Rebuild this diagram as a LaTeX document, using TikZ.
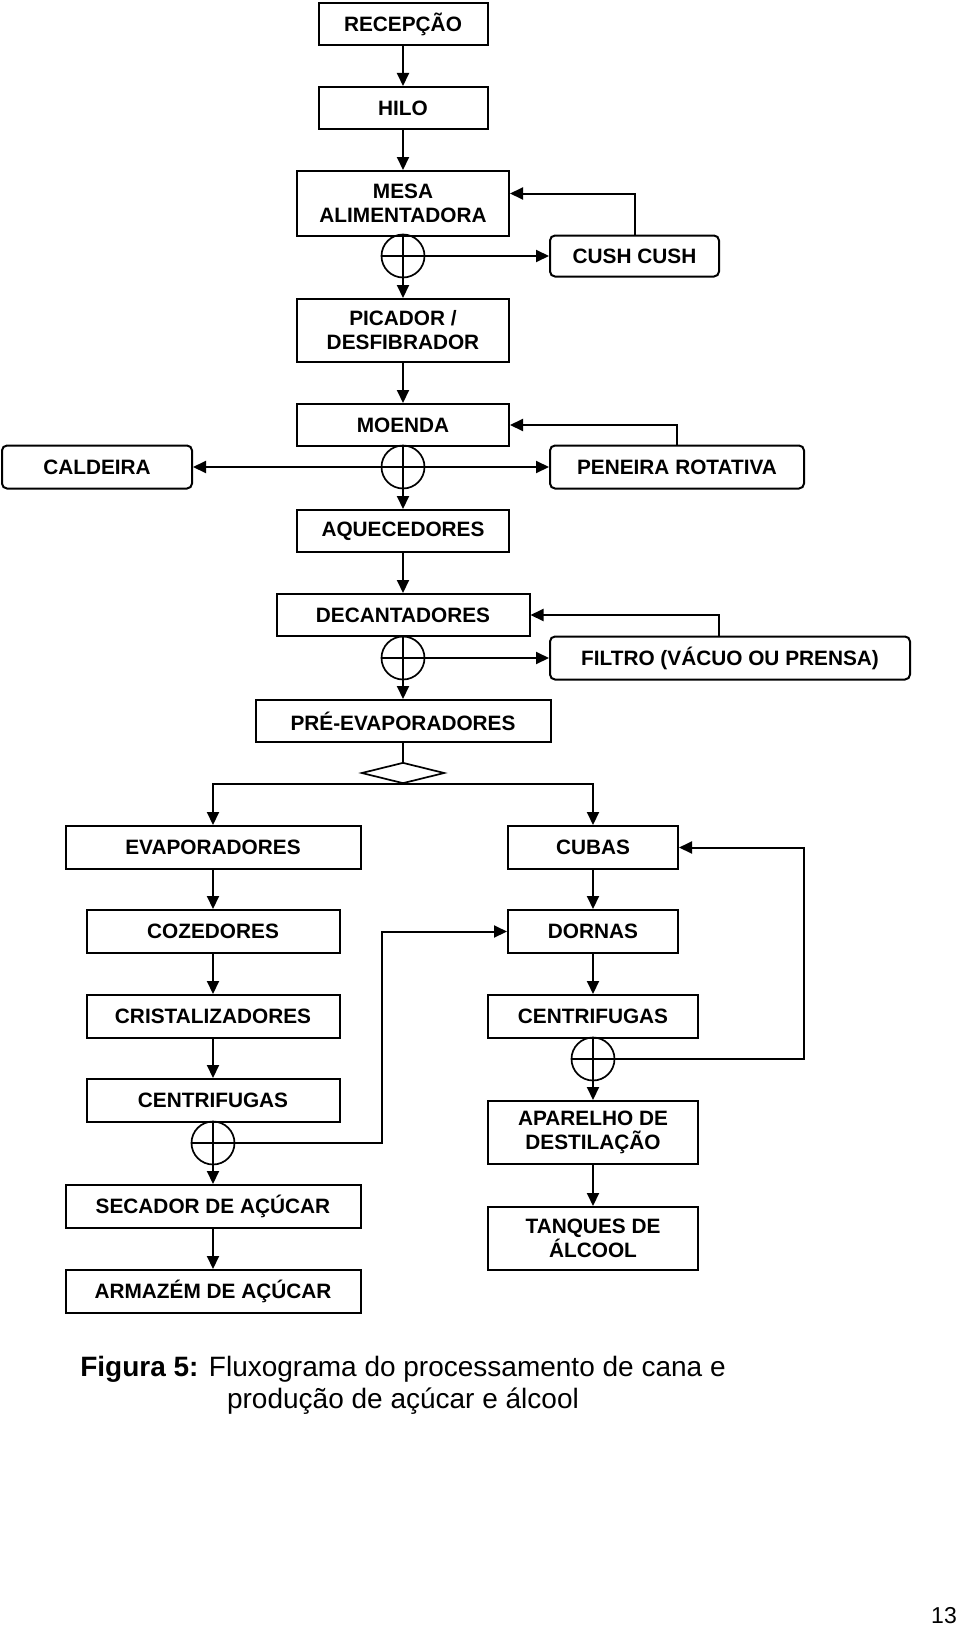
\documentclass[tikz,border=0pt]{standalone}
\usepackage{fontspec}
\setmainfont{Liberation Sans}
\usetikzlibrary{arrows.meta,shapes.geometric}

\begin{document}
\begin{tikzpicture}[x=1pt,y=-1pt,
    box/.style={draw, line width=2pt, inner sep=2pt, align=center,
                font=\bfseries\fontsize{20.8}{24}\selectfont},
    rbox/.style={box, rounded corners=5pt},
    junc/.style={draw, circle, line width=1.7pt, minimum size=43pt, inner sep=0pt},
    arr/.style={line width=2pt, -{Triangle[length=13pt,width=12pt]}},
    plain/.style={line width=2pt}]
\useasboundingbox (0,0) rectangle (960,1627);
% main column
\node[box, minimum width=169pt, minimum height=42pt] (recepcao) at (403,24) {RECEPÇÃO};
\node[box, minimum width=169pt, minimum height=42pt] (hilo) at (403,108) {HILO};
\node[box, minimum width=212pt, minimum height=65pt] (mesa) at (403,203.5) {MESA\\ALIMENTADORA};
\node[junc] (jmesa) at (403,256) {};
\node[rbox, minimum width=169pt, minimum height=41pt] (cush) at (634.5,256) {CUSH CUSH};
\node[box, minimum width=212pt, minimum height=63pt] (picador) at (403,330.5) {PICADOR /\\DESFIBRADOR};
\node[box, minimum width=212pt, minimum height=42pt] (moenda) at (403,425) {MOENDA};
\node[junc] (jmoenda) at (403,467) {};
\node[rbox, minimum width=190pt, minimum height=43pt] (caldeira) at (97,467) {CALDEIRA};
\node[rbox, minimum width=254pt, minimum height=43pt] (peneira) at (677,467) {PENEIRA ROTATIVA};
\node[box, minimum width=212pt, minimum height=42pt] (aquecedores) at (403,531) {AQUECEDORES};
\node[box, minimum width=253pt, minimum height=42pt] (decantadores) at (403,615) {DECANTADORES};
\node[junc] (jdec) at (403,658) {};
\node[rbox, minimum width=360pt, minimum height=43pt] (filtro) at (730,658) {FILTRO (VÁCUO OU PRENSA)};
\node[box, minimum width=295pt, minimum height=42pt] (preevap) at (403,721) {PRÉ-EVAPORADORES};
\node[draw, diamond, line width=1.7pt, minimum width=83pt, minimum height=21pt, inner sep=0pt] (split) at (403,773) {};

% left column (acucar)
\node[box, minimum width=295pt, minimum height=43pt] (evaporadores) at (213,847.5) {EVAPORADORES};
\node[box, minimum width=253pt, minimum height=43pt] (cozedores) at (213,931.5) {COZEDORES};
\node[box, minimum width=253pt, minimum height=43pt] (cristal) at (213,1016.5) {CRISTALIZADORES};
\node[box, minimum width=253pt, minimum height=43pt] (centrL) at (213,1100.5) {CENTRIFUGAS};
\node[junc] (jL) at (213,1143) {};
\node[box, minimum width=295pt, minimum height=43pt] (secador) at (213,1206.5) {SECADOR DE AÇÚCAR};
\node[box, minimum width=295pt, minimum height=43pt] (armazem) at (213,1291.5) {ARMAZÉM DE AÇÚCAR};

% right column (alcool)
\node[box, minimum width=170pt, minimum height=43pt] (cubas) at (593,847.5) {CUBAS};
\node[box, minimum width=170pt, minimum height=43pt] (dornas) at (593,931.5) {DORNAS};
\node[box, minimum width=210pt, minimum height=43pt] (centrR) at (593,1016.5) {CENTRIFUGAS};
\node[junc] (jR) at (593,1059) {};
\node[box, minimum width=210pt, minimum height=63pt] (aparelho) at (593,1132.5) {APARELHO DE\\DESTILAÇÃO};
\node[box, minimum width=210pt, minimum height=63pt] (tanques) at (593,1238.5) {TANQUES DE\\ÁLCOOL};

\coordinate (loopR) at (804,0);
\coordinate (loopL) at (382,0);

% flow
\draw[arr] (recepcao) -- (hilo);
\draw[arr] (hilo) -- (mesa);
\draw[arr] (mesa) -- (picador);
\draw[plain] (jmesa.west) -- (jmesa.east);
\draw[arr] (jmesa.east) -- (cush);
\draw[arr] (cush.north) |- ([yshift=10pt]mesa.east);
\draw[arr] (picador) -- (moenda);
\draw[arr] (moenda) -- (aquecedores);
\draw[arr] (jmoenda.center) -- (caldeira);
\draw[arr] (jmoenda.center) -- (peneira);
\draw[arr] (peneira.north) |- (moenda.east);
\draw[arr] (aquecedores) -- (decantadores);
\draw[arr] (decantadores) -- (preevap);
\draw[plain] (jdec.west) -- (jdec.east);
\draw[arr] (jdec.east) -- (filtro);
\draw[arr] ([xshift=-11pt]filtro.north) |- (decantadores.east);
\draw[plain] (preevap) -- (split);
\draw[arr] (split.south) -| (evaporadores);
\draw[arr] (split.south) -| (cubas);

\draw[arr] (evaporadores) -- (cozedores);
\draw[arr] (cozedores) -- (cristal);
\draw[arr] (cristal) -- (centrL);
\draw[arr] (centrL) -- (secador);
\draw[arr] (secador) -- (armazem);
\draw[plain] (jL.west) -- (jL.east);
\draw[arr] (jL.east) -- (jL.east -| loopL) |- (dornas.west);

\draw[arr] (cubas) -- (dornas);
\draw[arr] (dornas) -- (centrR);
\draw[arr] (centrR) -- (aparelho);
\draw[arr] (aparelho) -- (tanques);
\draw[plain] (jR.west) -- (jR.east);
\draw[arr] (jR.east) -- (jR.east -| loopR) |- (cubas.east);

% caption
\node[align=center, font=\fontsize{28}{32}\selectfont] (legenda) at (403,1385)
  {\textbf{Figura 5:} Fluxograma do processamento de cana e\\produção de açúcar e álcool};
\node[anchor=south east, inner sep=1pt, font=\fontsize{23}{26}\selectfont] (pagina) at (958,1625) {13};
\end{tikzpicture}
\end{document}
